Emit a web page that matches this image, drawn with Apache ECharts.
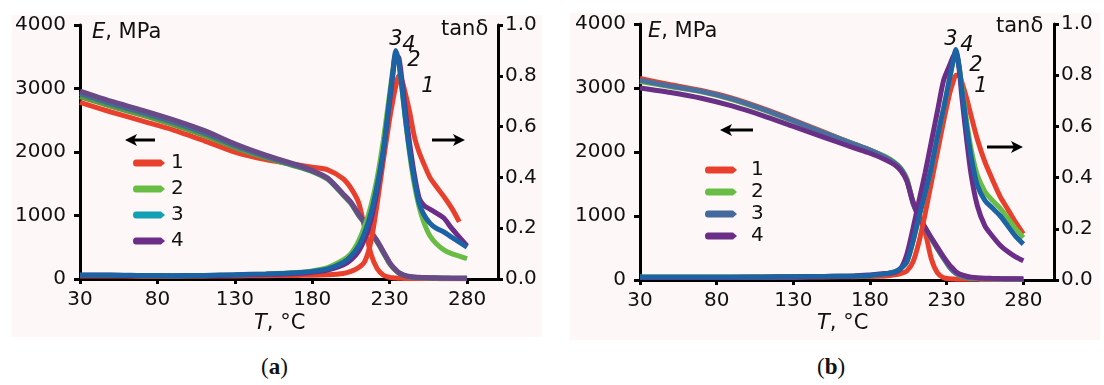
<!DOCTYPE html>
<html>
<head>
<meta charset="utf-8">
<script src="https://cdn.jsdelivr.net/npm/echarts@6/dist/echarts.min.js"></script>
<style>
  html, body { margin: 0; padding: 0; background: #fff; }
  #wrap { position: relative; width: 1104px; height: 385px; }
  .panel { position: absolute; background: #fdf8f7; }
  .cap { position: absolute; top: 354px; font-family: "Liberation Serif", serif; font-size: 23px; color: #111; }
</style>
</head>
<body>
<div id="wrap">
  <div id="chartA" class="panel" style="left:12px;top:15px;width:530px;height:322px"></div>
  <div id="chartB" class="panel" style="left:570px;top:13px;width:530px;height:327px"></div>
  <div class="cap" style="left:261px">(<b>a</b>)</div>
  <div class="cap" style="left:817px">(<b>b</b>)</div>
</div>
<script>
// temperature grids, °C
const T_A = [30, 50, 70, 90, 110, 130, 150, 170, 180, 190, 200, 205, 210, 214, 218, 222, 226, 230, 232, 234,
             236, 238, 240, 243, 246, 249, 252, 256, 260, 265, 270, 275, 280];
const T_B = [30, 50, 70, 90, 110, 130, 150, 170, 180, 190, 196, 200, 204, 208, 212, 216, 220, 224, 228, 232,
             234, 236, 238, 240, 243, 246, 250, 255, 260, 265, 270, 275, 280];

const X_TICKS = [30, 80, 130, 180, 230, 280];
const NAMES = ['1', '2', '3', '4'];

// (a) storage modulus E, MPa
const E_A1 = [2780, 2630, 2490, 2350, 2180, 2000, 1880, 1800, 1760, 1720, 1580, 1430, 1200, 790, 390, 160, 60, 25, 18, 14,
              12, 10, 9, 8, 8, 7, 7, 6, 6, 5, 5, 5, 5];
const E_A2 = [2870, 2720, 2580, 2430, 2260, 2070, 1910, 1770, 1690, 1570, 1320, 1190, 1000, 870, 720, 580, 410, 240, 180, 130,
              90, 65, 45, 32, 25, 20, 18, 15, 14, 12, 11, 10, 10];
const E_A3 = [2920, 2760, 2620, 2470, 2300, 2100, 1930, 1780, 1700, 1580, 1330, 1200, 1010, 880, 730, 590, 420, 250, 190, 140,
              95, 70, 50, 35, 28, 22, 20, 17, 15, 13, 12, 11, 10];
const E_A4 = [2960, 2800, 2660, 2510, 2340, 2130, 1950, 1800, 1710, 1590, 1340, 1210, 1020, 890, 740, 600, 430, 260, 195, 145,
              100, 75, 55, 40, 32, 27, 24, 20, 18, 15, 13, 12, 11];

// (a) loss tangent
const TAN_A1 = [0.012, 0.012, 0.011, 0.011, 0.012, 0.012, 0.013, 0.014, 0.015, 0.017, 0.022, 0.03, 0.045, 0.07, 0.15, 0.30, 0.47, 0.63, 0.70, 0.76,
                0.80, 0.78, 0.735, 0.655, 0.56, 0.50, 0.455, 0.40, 0.365, 0.325, 0.28, 0.225, null];
const TAN_A2 = [0.014, 0.014, 0.013, 0.012, 0.013, 0.016, 0.02, 0.026, 0.032, 0.045, 0.075, 0.10, 0.15, 0.21, 0.29, 0.40, 0.55, 0.73, 0.82, 0.89,
                0.85, 0.75, 0.64, 0.49, 0.37, 0.285, 0.225, 0.17, 0.14, 0.115, 0.10, 0.09, 0.08];
const TAN_A3 = [0.016, 0.016, 0.014, 0.013, 0.014, 0.017, 0.02, 0.025, 0.03, 0.04, 0.065, 0.09, 0.13, 0.185, 0.26, 0.37, 0.51, 0.71, 0.81, 0.90,
                0.85, 0.75, 0.64, 0.50, 0.39, 0.30, 0.255, 0.22, 0.20, 0.185, 0.165, 0.145, 0.125];
const TAN_A4 = [0.015, 0.015, 0.013, 0.012, 0.013, 0.015, 0.018, 0.022, 0.027, 0.035, 0.055, 0.075, 0.11, 0.16, 0.235, 0.35, 0.50, 0.70, 0.80, 0.88,
                0.87, 0.78, 0.67, 0.53, 0.41, 0.32, 0.29, 0.275, 0.26, 0.24, 0.20, 0.165, 0.13];

// (b) storage modulus E, MPa
const E_B1 = [3150, 3050, 2960, 2840, 2680, 2500, 2310, 2120, 2030, 1920, 1830, 1740, 1570, 1220, 960, 740, 330, 110, 35, 18,
              15, 13, 12, 11, 10, 10, 10, 9, 9, 8, 8, 8, 8];
const E_B2 = [3100, 3020, 2940, 2820, 2660, 2480, 2300, 2120, 2030, 1930, 1840, 1750, 1590, 1230, 990, 810, 645, 485, 335, 195,
              145, 105, 75, 55, 38, 28, 23, 19, 17, 15, 14, 13, 12];
const E_B3 = [3120, 3030, 2950, 2830, 2670, 2490, 2300, 2120, 2030, 1920, 1830, 1740, 1560, 1200, 980, 800, 650, 490, 340, 200,
              145, 105, 80, 60, 40, 30, 25, 20, 18, 16, 15, 14, 13];
const E_B4 = [3000, 2930, 2840, 2720, 2570, 2400, 2230, 2060, 1980, 1880, 1800, 1710, 1550, 1220, 990, 820, 660, 510, 360, 230,
              180, 130, 100, 80, 58, 45, 35, 28, 25, 22, 20, 19, 18];

// (b) loss tangent
const TAN_B1 = [0.010, 0.010, 0.010, 0.010, 0.011, 0.011, 0.012, 0.013, 0.014, 0.016, 0.02, 0.025, 0.035, 0.07, 0.15, 0.26, 0.38, 0.50, 0.62, 0.73,
                0.77, 0.80, 0.80, 0.77, 0.71, 0.64, 0.55, 0.46, 0.39, 0.325, 0.275, 0.225, 0.18];
const TAN_B2 = [0.012, 0.012, 0.012, 0.012, 0.012, 0.013, 0.014, 0.016, 0.018, 0.024, 0.032, 0.045, 0.07, 0.15, 0.25, 0.34, 0.44, 0.56, 0.67, 0.79,
                0.85, 0.89, 0.84, 0.75, 0.62, 0.51, 0.41, 0.345, 0.31, 0.28, 0.24, 0.20, 0.165];
const TAN_B3 = [0.012, 0.012, 0.012, 0.012, 0.012, 0.013, 0.014, 0.016, 0.018, 0.024, 0.032, 0.045, 0.07, 0.15, 0.25, 0.34, 0.44, 0.56, 0.67, 0.79,
                0.85, 0.90, 0.84, 0.74, 0.60, 0.48, 0.37, 0.31, 0.28, 0.25, 0.21, 0.17, 0.14];
const TAN_B4 = [0.010, 0.010, 0.010, 0.010, 0.011, 0.012, 0.014, 0.016, 0.02, 0.025, 0.03, 0.045, 0.10, 0.20, 0.31, 0.42, 0.54, 0.66, 0.78, 0.84,
                0.87, 0.89, 0.83, 0.71, 0.55, 0.41, 0.29, 0.21, 0.17, 0.135, 0.11, 0.09, 0.075];

const FONT = 'DejaVu Sans';
const FS = 20;
const FS_NAME = 21;

function pairs(xs, ys) {
  return xs.map((x, i) => [x, ys[i]]).filter(p => p[1] !== null);
}

function arrow(x1, x2, y) {
  const dir = x2 > x1 ? 1 : -1;
  return {
    type: 'group',
    children: [
      { type: 'line', shape: { x1: x1, y1: y, x2: x2 - dir * 6, y2: y }, style: { stroke: '#000', lineWidth: 3 } },
      { type: 'polygon', shape: { points: [[x2, y], [x2 - dir * 12, y - 6], [x2 - dir * 9, y], [x2 - dir * 12, y + 6]] },
        style: { fill: '#000' } }
    ]
  };
}

function txt(x, y, text, extra) {
  return {
    type: 'text', x: x, y: y,
    style: Object.assign({ text: text, font: FS_NAME + 'px "' + FONT + '"', fill: '#111', verticalAlign: 'middle' }, extra || {})
  };
}

function buildOption(p) {
  const series = [];
  p.E.forEach((d, i) => series.push({
    name: NAMES[i], type: 'line', yAxisIndex: 0, data: pairs(p.T, d),
    showSymbol: false, smooth: 0.25, lineStyle: { width: 5, color: p.eColors[i] }, itemStyle: { color: p.eColors[i] },
    z: 2 + i
  }));
  const order = [0, 1, 3, 2]; // blue on top
  order.forEach((i, k) => series.push({
    name: NAMES[i], type: 'line', yAxisIndex: 1, data: pairs(p.T, p.tan[i]),
    showSymbol: false, smooth: 0.25, lineStyle: { width: 5, color: p.tanColors[i] }, itemStyle: { color: p.tanColors[i] },
    z: 10 + k
  }));

  const axisLine = { lineStyle: { color: '#000', width: 3 } };
  const axisLabel = { color: '#111', fontFamily: FONT, fontSize: FS };

  return {
    animation: false,
    grid: p.grid,
    xAxis: {
      type: 'value', min: 30, max: 300,
      axisLine: axisLine,
      axisTick: { length: 5, lineStyle: { color: '#000', width: 3 }, customValues: X_TICKS },
      axisLabel: Object.assign({ margin: 11, customValues: X_TICKS, formatter: v => String(v) }, axisLabel),
      splitLine: { show: false }
    },
    yAxis: [
      {
        type: 'value', min: 0, max: 4000, interval: 1000, position: 'left',
        axisLine: Object.assign({ show: true }, axisLine),
        axisTick: { show: true, length: 6, lineStyle: { color: '#000', width: 3 } },
        axisLabel: Object.assign({ margin: 14, formatter: v => String(v) }, axisLabel),
        splitLine: { show: false }
      },
      {
        type: 'value', min: 0, max: 1, interval: 0.2, position: 'right',
        axisLine: Object.assign({ show: true }, axisLine),
        axisTick: { show: true, length: 5, lineStyle: { color: '#000', width: 3 } },
        axisLabel: Object.assign({ margin: 7, formatter: v => v.toFixed(1) }, axisLabel),
        splitLine: { show: false }
      }
    ],
    legend: {
      orient: 'vertical', left: p.legend.left, top: p.legend.top, padding: 0,
      itemGap: p.legend.gap, itemWidth: 32, itemHeight: 7, selectedMode: false,
      icon: 'path://M3,0 L28,0 L32,3.5 L28,7 L3,7 Q0,7 0,3.5 Q0,0 3,0 Z',
      textStyle: { fontFamily: FONT, fontSize: FS, color: '#111', lineHeight: 20, padding: [0, 0, 0, p.legend.textPad] },
      data: NAMES.map((n, i) => ({ name: n, itemStyle: { color: p.legendColors[i] } }))
    },
    graphic: p.graphic,
    series: series
  };
}

const RED = '#e8402c';
const GREEN = '#69bd45';
const BLUE = '#1c63a6';
const PURPLE = '#6b2d87';
const ITALIC = 'italic ' + FS_NAME + 'px "' + FONT + '"';
const RICH = { rich: { i: { fontStyle: 'italic', fontFamily: FONT, fontSize: FS_NAME } } };

const optA = buildOption({
  T: T_A,
  E: [E_A1, E_A2, E_A3, E_A4],
  tan: [TAN_A1, TAN_A2, TAN_A3, TAN_A4],
  eColors: [RED, '#5f9a3c', '#3f6f96', '#6a4a86'],
  tanColors: [RED, GREEN, BLUE, PURPLE],
  legendColors: [RED, GREEN, '#14a0b4', PURPLE],
  grid: { left: 68, right: 44, top: 9, bottom: 58 },
  legend: { left: 121, top: 138, gap: 6, textPad: 1 },
  graphic: [
    txt(80, 18, '{i|E}, MPa', RICH),
    txt(429, 15, 'tanδ'),
    txt(242, 309, '{i|T}, °C', RICH),
    txt(384, 25, '3', { font: ITALIC, align: 'center' }),
    txt(397, 31, '4', { font: ITALIC, align: 'center' }),
    txt(402, 46, '2', { font: ITALIC, align: 'center' }),
    txt(416, 72, '1', { font: ITALIC, align: 'center' }),
    arrow(143, 113, 125),
    arrow(420, 453, 125)
  ]
});

const optB = buildOption({
  T: T_B,
  E: [E_B1, E_B2, E_B3, E_B4],
  tan: [TAN_B1, TAN_B2, TAN_B3, TAN_B4],
  eColors: [RED, GREEN, '#4a6f9e', '#6a3088'],
  tanColors: [RED, GREEN, BLUE, PURPLE],
  legendColors: [RED, GREEN, '#44699c', PURPLE],
  grid: { left: 70, right: 46, top: 11, bottom: 60 },
  legend: { left: 135, top: 147, gap: 2, textPad: 9 },
  graphic: [
    txt(78, 19, '{i|E}, MPa', RICH),
    txt(426, 14, 'tanδ'),
    txt(247, 311, '{i|T}, °C', RICH),
    txt(381, 27, '3', { font: ITALIC, align: 'center' }),
    txt(397, 33, '4', { font: ITALIC, align: 'center' }),
    txt(406, 53, '2', { font: ITALIC, align: 'center' }),
    txt(411, 74, '1', { font: ITALIC, align: 'center' }),
    arrow(183, 150, 117),
    arrow(417, 453, 134)
  ]
});

echarts.init(document.getElementById('chartA'), null, { renderer: 'canvas' }).setOption(optA);
echarts.init(document.getElementById('chartB'), null, { renderer: 'canvas' }).setOption(optB);
</script>
</body>
</html>
